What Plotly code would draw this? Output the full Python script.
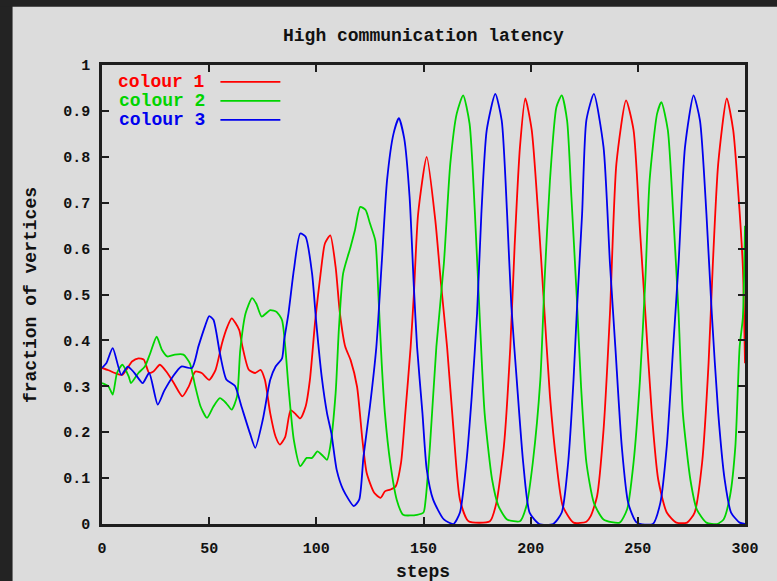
import plotly.graph_objects as go

# ---- data: fraction of vertices holding each colour over time ----
steps_c1 = [0, 3, 6, 9.5, 14, 17, 19.5, 22, 24, 27, 30.5, 33.5, 37.5, 40.5, 43.5, 46.5, 50, 53, 56, 58.5,
            60.5, 64, 65.5, 68.5, 71.5, 74, 76, 78.5, 81, 83, 85.5, 88, 90, 92.5, 95, 97, 99.5, 102, 104,
            106.5, 109, 111, 113.5, 116, 119, 121.5, 123.5, 127, 130, 132, 134.5, 137, 139.5, 141.5, 144,
            145.5, 147.5, 151.5, 155.5, 158, 161, 164, 167, 171, 181, 184, 187.5, 190.5, 192.5, 195, 197.5,
            200.5, 203.5, 206, 209, 212, 215, 220, 226, 228, 231, 234, 237, 240, 244.5, 248, 251, 253.5,
            256.5, 259.5, 263.5, 268, 273, 276.5, 280, 283, 285, 287.5, 291.5, 294.5, 297, 299, 300]
colour_1 = [0.34, 0.335, 0.329, 0.325, 0.354, 0.361, 0.358, 0.329, 0.332, 0.347, 0.329, 0.307, 0.278, 0.30,
            0.332, 0.329, 0.314, 0.336, 0.394, 0.43, 0.448, 0.423, 0.387, 0.336, 0.329, 0.336, 0.314, 0.241,
            0.19, 0.173, 0.19, 0.248, 0.241, 0.23, 0.256, 0.314, 0.444, 0.546, 0.611, 0.629, 0.56, 0.459,
            0.386, 0.357, 0.299, 0.183, 0.111, 0.068, 0.057, 0.071, 0.075, 0.082, 0.133, 0.241, 0.386, 0.50,
            0.676, 0.80, 0.662, 0.532, 0.386, 0.205, 0.053, 0.006, 0.006, 0.046, 0.169, 0.386, 0.604, 0.821,
            0.927, 0.858, 0.676, 0.495, 0.278, 0.134, 0.039, 0.003, 0.005, 0.017, 0.061, 0.205, 0.459, 0.785,
            0.923, 0.858, 0.64, 0.459, 0.242, 0.097, 0.025, 0.003, 0.003, 0.025, 0.134, 0.35, 0.567, 0.785,
            0.927, 0.858, 0.713, 0.56, 0.35]

steps_c2 = [0, 3, 5, 7, 9.5, 12.5, 13.5, 17, 20, 22.5, 25.5, 28, 30.5, 34, 38, 41, 43.5, 46, 49, 52, 55, 58,
            60.5, 63, 64.5, 67, 70, 72, 74.5, 78.5, 81.5, 84, 85.5, 87, 89.5, 92.5, 95.5, 98, 100.5, 102.5,
            105, 106.5, 109, 110.5, 112.5, 116, 118, 120.5, 123, 125, 127.5, 129, 130.5, 132, 134.5, 137.5,
            140.5, 147, 150, 151, 153, 156, 159.5, 162.5, 165.5, 168.5, 171.5, 174, 176.5, 178.5, 182, 185,
            189, 195, 198, 201, 204.5, 206.5, 209, 212, 214.5, 217, 219, 221.5, 223.5, 226, 229.5, 234,
            241.5, 245, 248, 251, 253.5, 255.5, 259, 261, 264, 266.5, 269, 271, 274.5, 277.5, 282, 287,
            290, 293, 295.5, 297.5, 299, 300]
colour_2 = [0.307, 0.30, 0.282, 0.329, 0.347, 0.321, 0.307, 0.329, 0.343, 0.372, 0.408, 0.379, 0.365, 0.369,
            0.369, 0.35, 0.30, 0.256, 0.231, 0.256, 0.274, 0.263, 0.249, 0.278, 0.379, 0.459, 0.492, 0.48,
            0.452, 0.466, 0.462, 0.444, 0.386, 0.299, 0.183, 0.126, 0.144, 0.144, 0.158, 0.151, 0.14, 0.169,
            0.285, 0.423, 0.546, 0.604, 0.64, 0.691, 0.684, 0.655, 0.618, 0.495, 0.35, 0.241, 0.133, 0.053,
            0.02, 0.02, 0.025, 0.053, 0.169, 0.386, 0.567, 0.785, 0.894, 0.934, 0.872, 0.676, 0.423, 0.242,
            0.097, 0.039, 0.01, 0.006, 0.039, 0.134, 0.314, 0.532, 0.749, 0.908, 0.934, 0.879, 0.713, 0.495,
            0.30, 0.134, 0.046, 0.01, 0.003, 0.032, 0.134, 0.314, 0.532, 0.749, 0.894, 0.919, 0.858, 0.676,
            0.459, 0.242, 0.097, 0.032, 0.003, 0.0, 0.01, 0.061, 0.169, 0.386, 0.45, 0.65]

steps_c3 = [0, 2, 5, 9, 12, 15, 19, 22, 26, 29, 33, 37, 42, 45, 48, 50, 52, 55, 58, 62, 65, 69, 71.5, 75,
            78.5, 81, 84, 85, 87, 89.5, 92.5, 95, 98, 100, 102.5, 105, 107, 109.5, 112.5, 117.5, 120, 122,
            125, 128, 130.5, 133, 136, 138.5, 141, 143.5, 145.5, 147, 149.5, 151.5, 154.5, 159.5, 164, 167,
            170, 172.5, 175, 177, 179.5, 183.5, 186.5, 189, 191, 193.5, 196.5, 199.5, 204, 210.5, 214.5,
            217.5, 220, 221.5, 224, 226, 229.5, 234, 237, 239.5, 242.5, 245.5, 249.5, 257, 260.5, 263.5,
            266.5, 269, 272, 276, 279, 282, 284.5, 287.5, 290.5, 293.5, 297.5, 300]
colour_3 = [0.34, 0.35, 0.383, 0.325, 0.343, 0.33, 0.307, 0.329, 0.26, 0.29, 0.321, 0.343, 0.34, 0.387, 0.43,
            0.453, 0.445, 0.372, 0.315, 0.301, 0.257, 0.198, 0.166, 0.227, 0.314, 0.343, 0.361, 0.401, 0.459,
            0.553, 0.633, 0.626, 0.546, 0.437, 0.321, 0.241, 0.198, 0.118, 0.075, 0.039, 0.053, 0.147, 0.256,
            0.386, 0.568, 0.749, 0.85, 0.884, 0.84, 0.713, 0.517, 0.386, 0.242, 0.119, 0.053, 0.01, 0.0,
            0.025, 0.134, 0.278, 0.459, 0.676, 0.858, 0.937, 0.879, 0.676, 0.474, 0.314, 0.134, 0.025, 0.0,
            0.0, 0.025, 0.134, 0.314, 0.459, 0.676, 0.88, 0.937, 0.821, 0.567, 0.386, 0.169, 0.046, 0.003,
            0.0, 0.046, 0.169, 0.386, 0.567, 0.821, 0.934, 0.879, 0.676, 0.459, 0.242, 0.097, 0.025, 0.003, 0.0]

series_names = ["colour 1", "colour 2", "colour 3"]
series_colors = ["#ff0000", "#00d400", "#0000ee"]

x_ticks = [0, 50, 100, 150, 200, 250, 300]
x_tick_text = ["0", "50", "100", "150", "200", "250", "300"]
y_ticks = [0, 0.1, 0.2, 0.3, 0.4, 0.5, 0.6, 0.7, 0.8, 0.9, 1]
y_tick_text = ["0", "0.1", "0.2", "0.3", "0.4", "0.5", "0.6", "0.7", "0.8", "0.9", "1"]

title_text = "High communication latency"
x_title = "steps"
y_title = "fraction of vertices"

# ---- page geometry (pixels) ----
W, H = 777, 581
L, R, T, B = 101.5, 745, 64.5, 524.5
PW, PH = R - L, B - T


def px(x):
    return (x - L) / PW


def py(y):
    return (B - y) / PH


FONT = "Liberation Mono"
INK = "#111111"
FRAME = "#1e1e1e"
BG = "#dcdcdc"
DARK = "#232323"
TXT = 18

fig = go.Figure()
for xs, ys, name, col in zip([steps_c1, steps_c2, steps_c3],
                             [colour_1, colour_2, colour_3],
                             series_names, series_colors):
    fig.add_trace(go.Scatter(x=xs, y=ys, mode="lines", name=name,
                             line=dict(color=col, width=1.8, shape="spline", smoothing=0.6),
                             showlegend=False))

axis_common = dict(
    showline=True, linecolor=FRAME, linewidth=2.5, mirror="allticks",
    ticks="inside", ticklen=7, tickwidth=2, tickcolor=FRAME,
    showgrid=False, zeroline=False,
    tickfont=dict(family=FONT, size=15, color=INK, weight="bold"),
)

fig.update_xaxes(range=[0, 300], tickvals=x_ticks, ticktext=x_tick_text,
                 ticklabelstandoff=8, **axis_common)
fig.update_yaxes(range=[0, 1], tickvals=y_ticks, ticktext=y_tick_text,
                 ticklabelstandoff=6, **axis_common)

annotations = [
    dict(text=title_text, x=px(423), y=py(35), xref="paper", yref="paper",
         showarrow=False, xanchor="center", yanchor="middle",
         font=dict(family=FONT, size=TXT, color=INK, weight="bold")),
    dict(text=x_title, x=px(423), y=py(573), xref="paper", yref="paper",
         showarrow=False, xanchor="center", yanchor="middle",
         font=dict(family=FONT, size=TXT, color=INK, weight="bold")),
    dict(text=y_title, x=px(31), y=py(295.5), xref="paper", yref="paper",
         showarrow=False, xanchor="center", yanchor="middle", textangle=-90,
         font=dict(family=FONT, size=TXT, color=INK, weight="bold")),
]

# key: right-justified label followed by a line sample
shapes = [
    dict(type="rect", xref="paper", yref="paper", x0=px(-5), x1=px(12), y0=py(590), y1=py(-5),
         fillcolor=DARK, line=dict(width=0), layer="below"),
    dict(type="rect", xref="paper", yref="paper", x0=px(-5), x1=px(785), y0=py(6), y1=py(-5),
         fillcolor=DARK, line=dict(width=0), layer="below"),
]
for i, (name, col) in enumerate(zip(series_names, series_colors)):
    yrow = 81.5 + 19 * i
    annotations.append(dict(text=name, x=px(207), y=py(yrow), xref="paper", yref="paper",
                            showarrow=False, xanchor="right", yanchor="middle",
                            font=dict(family=FONT, size=TXT, color=col, weight="bold")))
    shapes.append(dict(type="line", xref="paper", yref="paper", x0=px(220), x1=px(280),
                       y0=py(yrow), y1=py(yrow), line=dict(color=col, width=1.8)))

fig.update_layout(
    width=W, height=H,
    margin=dict(l=L, r=W - R, t=T, b=H - B, pad=0),
    paper_bgcolor=BG, plot_bgcolor=BG,
    annotations=annotations, shapes=shapes,
    showlegend=False,
)

fig.write_html("out.html")
